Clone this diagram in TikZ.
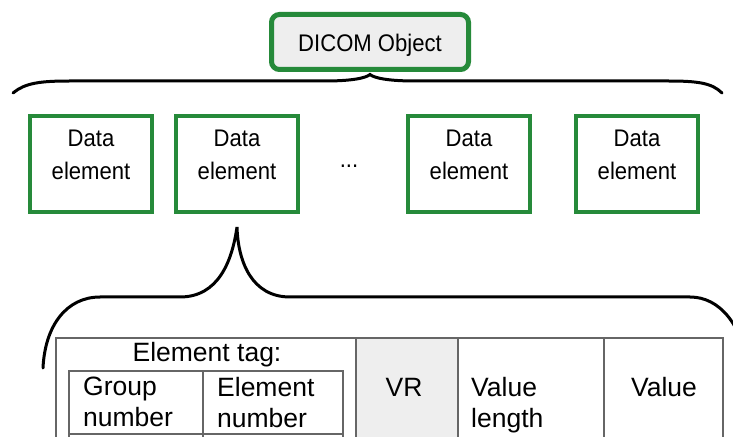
\documentclass[tikz,border=0pt]{standalone}
\usepackage{fontspec}
\setsansfont{Liberation Sans}
\newfontfamily\condsans{Liberation Sans}[FakeStretch=0.92]
\definecolor{dcmgreen}{RGB}{38,138,58}
\definecolor{dcmgray}{RGB}{238,238,238}
\newcommand{\dataelem}{Data\\element\rule[-18.5bp]{0pt}{18.5bp}}

\begin{document}
\begin{tikzpicture}[x=1bp, y=-1bp, every node/.style={inner sep=0, align=center},
    elembox/.style={draw=dcmgreen, line width=4bp, minimum width=122bp, minimum height=96bp,
      font=\condsans\fontsize{24bp}{33bp}\selectfont},
    brace/.style={line width=3bp, line cap=round},
    cell/.style={draw=black!60, line width=1.2bp},
    celltext/.style={font=\fontsize{26.5bp}{31bp}\selectfont}]\sffamily
  \useasboundingbox (0,0) rectangle (733,437);
  \clip (0,0) rectangle (733,437);

  \node[draw=dcmgreen, line width=5bp, fill=dcmgray, rounded corners=0.28cm,
    minimum width=197bp, minimum height=55bp, text height=20bp, text depth=0bp,
    font=\condsans\fontsize{24bp}{26bp}\selectfont]
    (obj) at (370, 42) {DICOM Object};

  \node[elembox] (de1) at (91, 164) {\dataelem};
  \node[elembox] (de2) at (237, 164) {\dataelem};
  \node[anchor=base, font=\condsans\fontsize{24bp}{26bp}\selectfont] (dots) at (349, 168) {...};
  \node[elembox] (de3) at (469, 164) {\dataelem};
  \node[elembox] (de4) at (637, 164) {\dataelem};

  \coordinate (otip) at ([yshift=-2.5bp]obj.south);
  \coordinate (ltip) at ([yshift=-13bp]de2.south);
  \coordinate (tl) at (13, 93);
  \coordinate (tr) at (722, 93);
  \coordinate (bl) at (43, 368);
  \coordinate (br) at (748, 368);

  % braces
  \draw[brace]
    (tl) .. controls (25,83) and (40,81) .. (70,81) -- (325,81)
         .. controls (352,81) and (366,78) .. (otip)
         .. controls (374,78) and (388,81) .. (415,81) -- (668,81)
         .. controls (698,81) and (712,83) .. (tr);
  \draw[brace]
    (bl) .. controls (45,325) and (67,297) .. (100,297) -- (180,297)
         .. controls (218,297) and (232,262) .. (ltip)
         .. controls (238,262) and (252,297) .. (290,297) -- (690,297)
         .. controls (720,297) and (742,325) .. (br);

  % data element table
  \fill[dcmgray] (356,338) rectangle (458,470);
  \draw[cell] (56,338) rectangle (723,470);
  \draw[cell] (356,338) -- (356,470) (458,338) -- (458,470) (604,338) -- (604,470);
  \draw[cell] (69,371) rectangle (343,470);
  \draw[cell] (69,434) -- (343,434) (203,371) -- (203,470);

  \node[celltext, anchor=base] (tag) at (207, 362) {Element tag:};
  \node[celltext, anchor=north west, align=left] (grp) at (83, 377) {Group\\number};
  \node[celltext, anchor=north west, align=left] (elnum) at (217, 377) {Element\\number};
  \node[celltext, anchor=base] (vr) at (404, 396) {VR};
  \node[celltext, anchor=north west, align=left] (vlen) at (471, 377) {Value\\length};
  \node[celltext, anchor=base] (val) at (664, 396) {Value};
\end{tikzpicture}
\end{document}
